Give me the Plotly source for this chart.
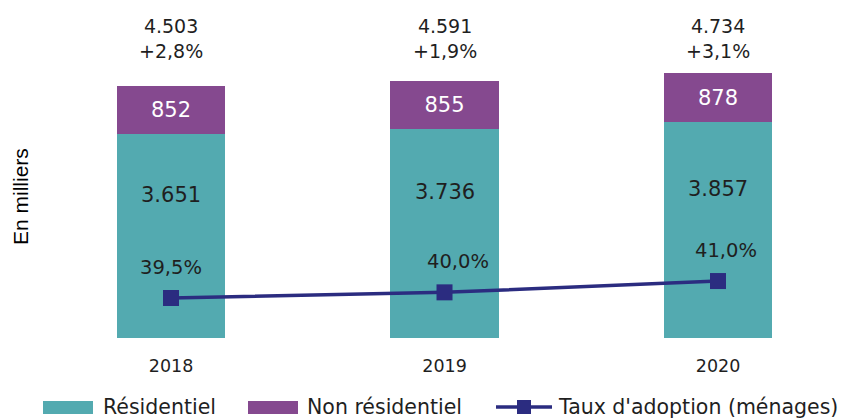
import plotly.graph_objects as go

years = ["2018", "2019", "2020"]
residentiel = [3651, 3736, 3857]
non_residentiel = [852, 855, 878]
totaux = [4503, 4591, 4734]
croissance = ["+2,8%", "+1,9%", "+3,1%"]
taux_adoption = [39.5, 40.0, 41.0]

TEAL = "#53AAB0"
PURPLE = "#85498F"
NAVY = "#2B2C80"
TXT = "#1F1F1F"
FONT = "DejaVu Sans"

# plot-area geometry (image pixels) used for paper-coordinate conversions
PX_L, PX_R, PX_T, PX_B = 40, 841, 20, 338
def px(xp):
    return (xp - PX_L) / (PX_R - PX_L)
def py(yp):
    return (PX_B - yp) / (PX_B - PX_T)

def fmt_k(v):
    return f"{v:,}".replace(",", ".")

def fmt_pct(v):
    return f"{v:.1f}%".replace(".", ",")

xs = list(range(len(years)))
label_xshift = [0, 13, 8]

fig = go.Figure()
fig.add_trace(go.Bar(
    x=xs, y=residentiel, name="Résidentiel", marker=dict(color=TEAL, line=dict(width=0)),
    width=0.395, textposition="none", showlegend=False))
fig.add_trace(go.Bar(
    x=xs, y=non_residentiel, name="Non résidentiel", marker=dict(color=PURPLE, line=dict(width=0)),
    width=0.395, text=[fmt_k(v) for v in non_residentiel], textposition="inside",
    insidetextanchor="middle", textfont=dict(color="white", size=21, family=FONT), showlegend=False))
fig.add_trace(go.Scatter(
    x=xs, y=taux_adoption, name="Taux d'adoption (ménages)", yaxis="y2", mode="lines+markers",
    line=dict(color=NAVY, width=3.5), marker=dict(symbol="square", size=16, color=NAVY),
    showlegend=False))

annotations = []
for i in xs:
    annotations.append(dict(x=i, y=py(39), xref="x", yref="paper",
                            text=f"{fmt_k(totaux[i])}<br>{croissance[i]}", showarrow=False,
                            yanchor="middle", font=dict(size=19, color=TXT, family=FONT)))
    annotations.append(dict(x=i, y=residentiel[i] / 2, xref="x", yref="y", text=fmt_k(residentiel[i]),
                            showarrow=False, yanchor="middle", yshift=41,
                            font=dict(size=21, color=TXT, family=FONT)))
    annotations.append(dict(x=i, y=taux_adoption[i], xref="x", yref="y2", text=fmt_pct(taux_adoption[i]),
                            showarrow=False, yanchor="middle", yshift=31, xshift=label_xshift[i],
                            font=dict(size=19.5, color=TXT, family=FONT)))
annotations.append(dict(x=px(20), y=py(197), xref="paper", yref="paper", text="En milliers",
                        showarrow=False, textangle=-90, xanchor="center", yanchor="middle",
                        font=dict(size=21, color="#000", family="Liberation Sans")))

# custom legend (wide swatches as in the reference)
legend_items = [
    ("Résidentiel", TEAL, 43, 93, 101),
    ("Non résidentiel", PURPLE, 248, 298, 305),
]
shapes = []
LEG_Y = 407
for label, col, x0, x1, tx in legend_items:
    shapes.append(dict(type="rect", xref="paper", yref="paper", x0=px(x0), x1=px(x1),
                       y0=py(LEG_Y + 7), y1=py(LEG_Y - 6), fillcolor=col, line=dict(width=0)))
    annotations.append(dict(x=px(tx), y=py(LEG_Y), xref="paper", yref="paper", text=label, showarrow=False,
                            xanchor="left", yanchor="middle", font=dict(size=20.5, color=TXT, family=FONT)))
shapes.append(dict(type="line", xref="paper", yref="paper", x0=px(496), x1=px(552), y0=py(LEG_Y), y1=py(LEG_Y),
                   line=dict(color=NAVY, width=3.5)))
shapes.append(dict(type="rect", xref="paper", yref="paper", x0=px(517), x1=px(531),
                   y0=py(LEG_Y + 7), y1=py(LEG_Y - 7), fillcolor=NAVY, line=dict(width=0)))
annotations.append(dict(x=px(556), y=py(LEG_Y), xref="paper", yref="paper", text="Taux d'adoption (ménages)",
                        showarrow=False, xanchor="left", yanchor="middle",
                        font=dict(size=20.5, color=TXT, family=FONT)))

fig.update_layout(
    width=851, height=419, barmode="stack", plot_bgcolor="white", paper_bgcolor="white",
    margin=dict(l=32, r=18, t=12, b=89, autoexpand=False),
    font=dict(family=FONT, color=TXT),
    xaxis=dict(range=[-0.479, 2.4497], tickvals=xs, ticktext=years, showgrid=False, zeroline=False,
               showline=False, ticks="", tickfont=dict(size=17.5, color=TXT, family=FONT), ticklabelstandoff=15),
    yaxis=dict(range=[0, 5683], visible=False),
    yaxis2=dict(range=[35.96, 64.1], overlaying="y", visible=False),
    showlegend=False,
    annotations=annotations,
    shapes=shapes,
)

fig.write_html("out.html")
